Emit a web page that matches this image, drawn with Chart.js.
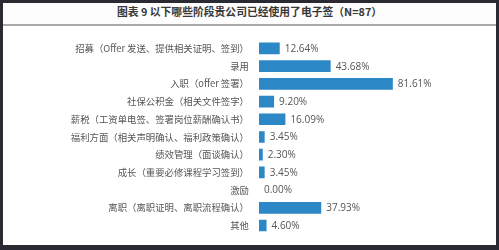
<!DOCTYPE html>
<html>
<head>
<meta charset="utf-8">
<script src="https://cdn.jsdelivr.net/npm/chart.js@4"></script>
<style>
  html, body { margin: 0; padding: 0; width: 499px; height: 250px; overflow: hidden; background: #2a2a33; }
  #frame { position: absolute; left: 3px; top: 3px; width: 493px; height: 242px; background: #ffffff; }
  #title { position: absolute; left: 0; top: 0; width: 493px; height: 21px; background: #fdfdfd;
           border-bottom: 2px solid #ababab; text-align: center; line-height: 22px;
           font: bold 10.8px "Noto Sans CJK SC", "Noto Sans", sans-serif; color: #383838; }
  #wrap { position: absolute; left: 0; top: 0; width: 499px; height: 250px; }
</style>
</head>
<body>
<div id="frame"><div id="title">图表 9 以下哪些阶段贵公司已经使用了电子签（N=87）</div></div>
<div id="wrap"><canvas id="c" width="499" height="250"></canvas></div>
<script>
const categories = [
  "招募（Offer 发送、提供相关证明、签到）",
  "录用",
  "入职（offer 签署）",
  "社保公积金（相关文件签字）",
  "薪税（工资单电签、签署岗位薪酬确认书）",
  "福利方面（相关声明确认、福利政策确认）",
  "绩效管理（面谈确认）",
  "成长（重要必修课程学习签到）",
  "激励",
  "离职（离职证明、离职流程确认）",
  "其他"
];
const values = [12.64, 43.68, 81.61, 9.20, 16.09, 3.45, 2.30, 3.45, 0.00, 37.93, 4.60];
const valueLabels = ["12.64%", "43.68%", "81.61%", "9.20%", "16.09%", "3.45%", "2.30%", "3.45%", "0.00%", "37.93%", "4.60%"];

const valueLabelPlugin = {
  id: 'valueLabels',
  afterDatasetsDraw(chart) {
    const ctx = chart.ctx;
    const meta = chart.getDatasetMeta(0);
    ctx.save();
    ctx.font = '10px "Open Sans", "Noto Sans", sans-serif';
    ctx.fillStyle = '#555555';
    ctx.textAlign = 'left';
    ctx.textBaseline = 'middle';
    meta.data.forEach((bar, i) => {
      ctx.fillText(valueLabels[i], bar.x + 5, bar.y + 0.5);
    });
    ctx.restore();
  }
};

new Chart(document.getElementById('c'), {
  type: 'bar',
  data: {
    labels: categories,
    datasets: [{
      data: values,
      backgroundColor: '#2b87c5',
      borderWidth: 0,
      categoryPercentage: 1.0,
      barPercentage: 0.66
    }]
  },
  options: {
    indexAxis: 'y',
    responsive: false,
    animation: false,
    events: [],
    layout: { padding: { top: 39.6, bottom: 15.6, left: 0, right: 76 } },
    plugins: { legend: { display: false }, tooltip: { enabled: false } },
    scales: {
      x: { display: false, min: 0, max: 100 },
      y: {
        grid: { display: false, drawTicks: false },
        border: { display: false },
        afterFit(scale) { scale.width = 259; },
        ticks: {
          padding: 10,
          color: '#555555',
          font: { family: '"Noto Sans CJK SC", "Noto Sans", sans-serif', size: 9.4 }
        }
      }
    }
  },
  plugins: [valueLabelPlugin]
});
</script>
</body>
</html>
